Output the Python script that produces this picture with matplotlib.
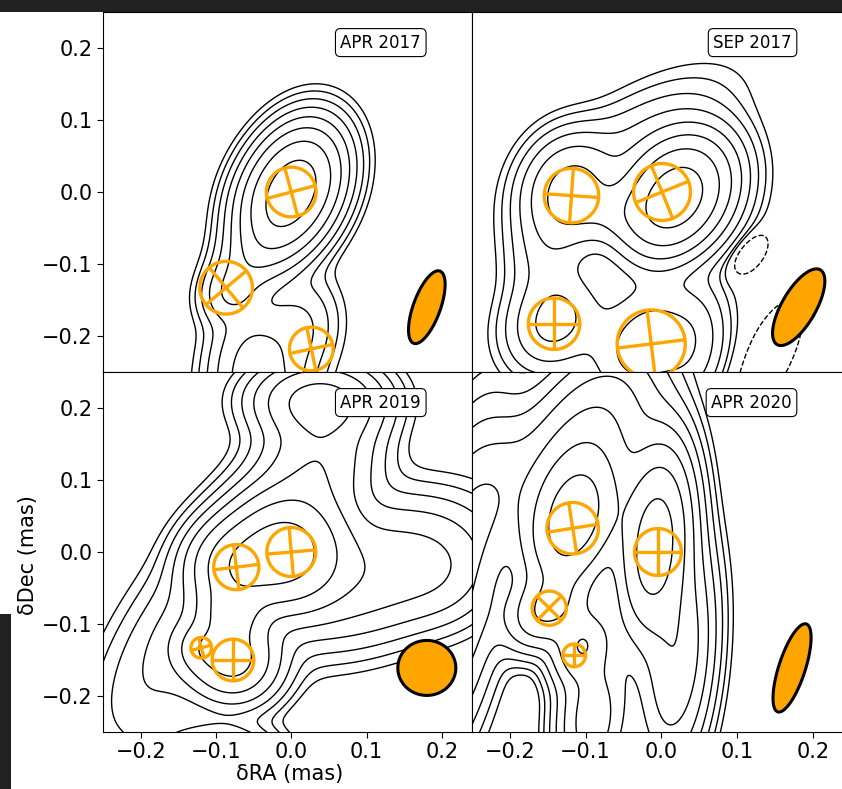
import numpy as np
import matplotlib
matplotlib.use("Agg")
import matplotlib.pyplot as plt
from matplotlib.patches import Rectangle, Polygon

# ---------------- data ----------------
epochs = ["APR 2017", "SEP 2017", "APR 2019", "APR 2020"]
xticks = [-0.2, -0.1, 0.0, 0.1, 0.2]
yticks = [-0.2, -0.1, 0.0, 0.1, 0.2]

# brightness components (x, y [mas], relative flux, FWHM major/minor [mas], PA of major axis [deg from +x])
img17a_x = [0.012, -0.012, -0.045, -0.08, 0.01, -0.055, -0.04]
img17a_y = [0.016, -0.016, -0.085, -0.14, -0.19, -0.22, -0.31]
img17a_f = [0.5, 0.5, 0.09, 0.055, 0.04, 0.05, 0.12]
img17a_maj = [0.105, 0.105, 0.10, 0.06, 0.10, 0.10, 0.14]
img17a_min = [0.072, 0.072, 0.06, 0.05, 0.07, 0.07, 0.085]
img17a_pa = [72, 72, 55, 60, 80, 80, 90]

img17b_x = [0.018, -0.12, -0.14, -0.02, -0.04, 0.07, -0.15, 0.115, 0.14, 0.04, -0.06]
img17b_y = [-0.008, 0.0, -0.18, -0.21, 0.06, 0.0, -0.08, -0.086, -0.23, -0.22, -0.03]
img17b_f = [1.0, 0.2, 0.10, 0.12, 0.04, 0.03, 0.045, -0.02, -0.015, 0.05, 0.1]
img17b_maj = [0.11, 0.10, 0.10, 0.12, 0.20, 0.12, 0.11, 0.055, 0.14, 0.12, 0.08]
img17b_min = [0.08, 0.08, 0.08, 0.09, 0.09, 0.08, 0.07, 0.03, 0.05, 0.06, 0.06]
img17b_pa = [60, 80, 60, 60, 35, 80, 80, 55, 65, 80, 0]

img19_x = [-0.01, -0.073, -0.077, -0.12, 0.035, 0.10, 0.03, -0.10, 0.20, -0.15, -0.08]
img19_y = [0.0, -0.021, -0.15, -0.133, 0.21, -0.03, 0.11, -0.29, -0.03, -0.12, -0.085]
img19_f = [1.0, 0.5, 0.45, 0.15, 0.22, 0.15, 0.18, 0.25, 0.04, 0.06, 0.35]
img19_maj = [0.10, 0.08, 0.08, 0.05, 0.11, 0.20, 0.16, 0.10, 0.10, 0.25, 0.06]
img19_min = [0.10, 0.08, 0.08, 0.05, 0.07, 0.12, 0.10, 0.06, 0.10, 0.10, 0.06]
img19_pa = [90, 90, 0, 0, 0, 20, 70, 0, 90, 60, 0]

img20_x = [-0.116, -0.009, -0.15, -0.105, -0.09, -0.10, 0.02, -0.27, -0.22]
img20_y = [0.045, 0.01, -0.08, -0.13, -0.23, 0.15, -0.15, -0.05, 0.08]
img20_f = [1.0, 1.0, 0.35, 0.3, 0.25, 0.2, 0.3, 0.2, 0.08]
img20_maj = [0.13, 0.17, 0.08, 0.07, 0.14, 0.18, 0.20, 0.30, 0.15]
img20_min = [0.075, 0.06, 0.06, 0.05, 0.06, 0.10, 0.06, 0.08, 0.08]
img20_pa = [75, 85, 45, 70, 85, 65, 85, 80, 60]

# model-fit components (x, y, radius [mas], cross rotation [deg])
mod17a_x = [0.0, -0.0865, 0.0266]
mod17a_y = [0.0, -0.133, -0.218]
mod17a_r = [0.033, 0.035, 0.029]
mod17a_rot = [15, 40, 12]

mod17b_x = [-0.1186, 0.001, -0.1416, -0.0133]
mod17b_y = [-0.005, 0.0, -0.183, -0.211]
mod17b_r = [0.036, 0.0376, 0.034, 0.045]
mod17b_rot = [-4, 22, 0, 7]

mod19_x = [0.0, -0.073, -0.1195, -0.0774]
mod19_y = [0.0, -0.021, -0.133, -0.150]
mod19_r = [0.0325, 0.030, 0.0137, 0.0277]
mod19_rot = [5, 7, 15, 0]

mod20_x = [-0.117, -0.0044, -0.148, -0.115]
mod20_y = [0.033, 0.0, -0.078, -0.1435]
mod20_r = [0.034, 0.031, 0.0226, 0.015]
mod20_rot = [9, 0, 45, 0]

# restoring beams (centre, minor, major [mas], tilt clockwise from north [deg])
beam_x = [0.180, 0.1815, 0.180, 0.1727]
beam_y = [-0.160, -0.160, -0.161, -0.161]
beam_min = [0.036, 0.045, 0.077, 0.035]
beam_maj = [0.102, 0.114, 0.073, 0.122]
beam_tilt = [20, 30, 0, 18]

rel_levels = [0.005, 0.01, 0.02, 0.04, 0.08, 0.16, 0.32, 0.64]
neg_levels = [-0.005]

# ---------------- figure ----------------
W, H = 842, 789
fig = plt.figure(figsize=(W / 100, H / 100), dpi=100)
ORANGE = "#FFA500"


def axpos(l, t, r, b):
    return [l / W, (H - b) / H, (r - l) / W, (b - t) / H]


axes = [
    fig.add_axes(axpos(103, 12, 472, 372)),
    fig.add_axes(axpos(472, 12, 843, 372)),
    fig.add_axes(axpos(103, 372, 472, 732)),
    fig.add_axes(axpos(472, 372, 843, 732)),
]

images = [
    (img17a_x, img17a_y, img17a_f, img17a_maj, img17a_min, img17a_pa),
    (img17b_x, img17b_y, img17b_f, img17b_maj, img17b_min, img17b_pa),
    (img19_x, img19_y, img19_f, img19_maj, img19_min, img19_pa),
    (img20_x, img20_y, img20_f, img20_maj, img20_min, img20_pa),
]
models = [
    (mod17a_x, mod17a_y, mod17a_r, mod17a_rot),
    (mod17b_x, mod17b_y, mod17b_r, mod17b_rot),
    (mod19_x, mod19_y, mod19_r, mod19_rot),
    (mod20_x, mod20_y, mod20_r, mod20_rot),
]

gx = np.linspace(-0.35, 0.35, 401)
gy = np.linspace(-0.35, 0.35, 401)
X, Y = np.meshgrid(gx, gy)


def build(xs, ys, fs, majs, mins, pas):
    Z = np.zeros_like(X)
    for x0, y0, f, a, b, pa in zip(xs, ys, fs, majs, mins, pas):
        t = np.radians(pa)
        dx, dy = X - x0, Y - y0
        u = dx * np.cos(t) + dy * np.sin(t)
        v = -dx * np.sin(t) + dy * np.cos(t)
        sa, sb = a / 2.3548, b / 2.3548
        Z += f * np.exp(-0.5 * (u ** 2 / sa ** 2 + v ** 2 / sb ** 2))
    return Z


XLIM = (-0.25, 0.24)
YLIM = (-0.25, 0.25)

for i, ax in enumerate(axes):
    ax.set_xlim(*XLIM)
    ax.set_ylim(*YLIM)
    bb = ax.get_position()
    sx = bb.width * W / (XLIM[1] - XLIM[0])
    sy = bb.height * H / (YLIM[1] - YLIM[0])
    k = sx / sy

    Z = build(*images[i])
    peak = Z.max()
    ax.contour(X, Y, Z, levels=[l * peak for l in rel_levels], colors="k",
               linewidths=1.0, linestyles="solid")
    if Z.min() < neg_levels[0] * peak:
        ax.contour(X, Y, Z, levels=[l * peak for l in neg_levels], colors="k",
                   linewidths=1.0, linestyles="dashed")

    mx, my, mr, mrot = models[i]
    th = np.linspace(0, 2 * np.pi, 200)
    for x0, y0, r, rot in zip(mx, my, mr, mrot):
        ax.plot(x0 + r * np.cos(th), y0 + r * k * np.sin(th), color=ORANGE, lw=2.4,
                solid_capstyle="butt", zorder=5)
        for ang in (rot, rot + 90):
            a = np.radians(ang)
            ax.plot([x0 - r * np.cos(a), x0 + r * np.cos(a)],
                    [y0 - r * k * np.sin(a), y0 + r * k * np.sin(a)],
                    color=ORANGE, lw=2.4, solid_capstyle="butt", zorder=5)

    t = np.radians(beam_tilt[i])
    a_ = beam_maj[i] / 2
    b_ = beam_min[i] / 2
    ex = b_ * np.cos(th)
    ey = a_ * np.sin(th)
    rx = ex * np.cos(t) + ey * np.sin(t)
    ry = -ex * np.sin(t) + ey * np.cos(t)
    poly = Polygon(np.column_stack([beam_x[i] + rx, beam_y[i] + ry * k]), closed=True,
                   fc=ORANGE, ec="black", lw=2.2, zorder=6)
    ax.add_patch(poly)

    ax.text(0.862, 0.915, epochs[i], transform=ax.transAxes, ha="right", va="center",
            fontsize=12, zorder=10,
            bbox=dict(boxstyle="round,pad=0.3", fc="white", ec="black", lw=0.8))

    ax.set_xticks(xticks)
    ax.set_yticks(yticks)
    ax.tick_params(labelsize=15, length=4)
    left = i in (0, 2)
    bottom = i in (2, 3)
    ax.tick_params(left=left, labelleft=left, bottom=bottom, labelbottom=bottom)
    ax.set_xticklabels([f"{v:.1f}".replace("-", "\u2212") for v in xticks])
    ax.set_yticklabels([f"{v:.1f}".replace("-", "\u2212") for v in yticks])

fig.text(290 / W, 1 - 774 / H, "\u03b4RA (mas)", ha="center", va="center", fontsize=15)
fig.text(28 / W, 1 - 555 / H, "\u03b4Dec (mas)", ha="center", va="center", fontsize=15,
         rotation=90)

fig.patches.append(Rectangle((0, 1 - 12 / H), 1, 12 / H, transform=fig.transFigure,
                             fc="#212121", ec="none", zorder=20))
fig.patches.append(Rectangle((0, 0), 11 / W, (H - 614) / H, transform=fig.transFigure,
                             fc="#212121", ec="none", zorder=20))

fig.savefig("out.png", dpi=100)
